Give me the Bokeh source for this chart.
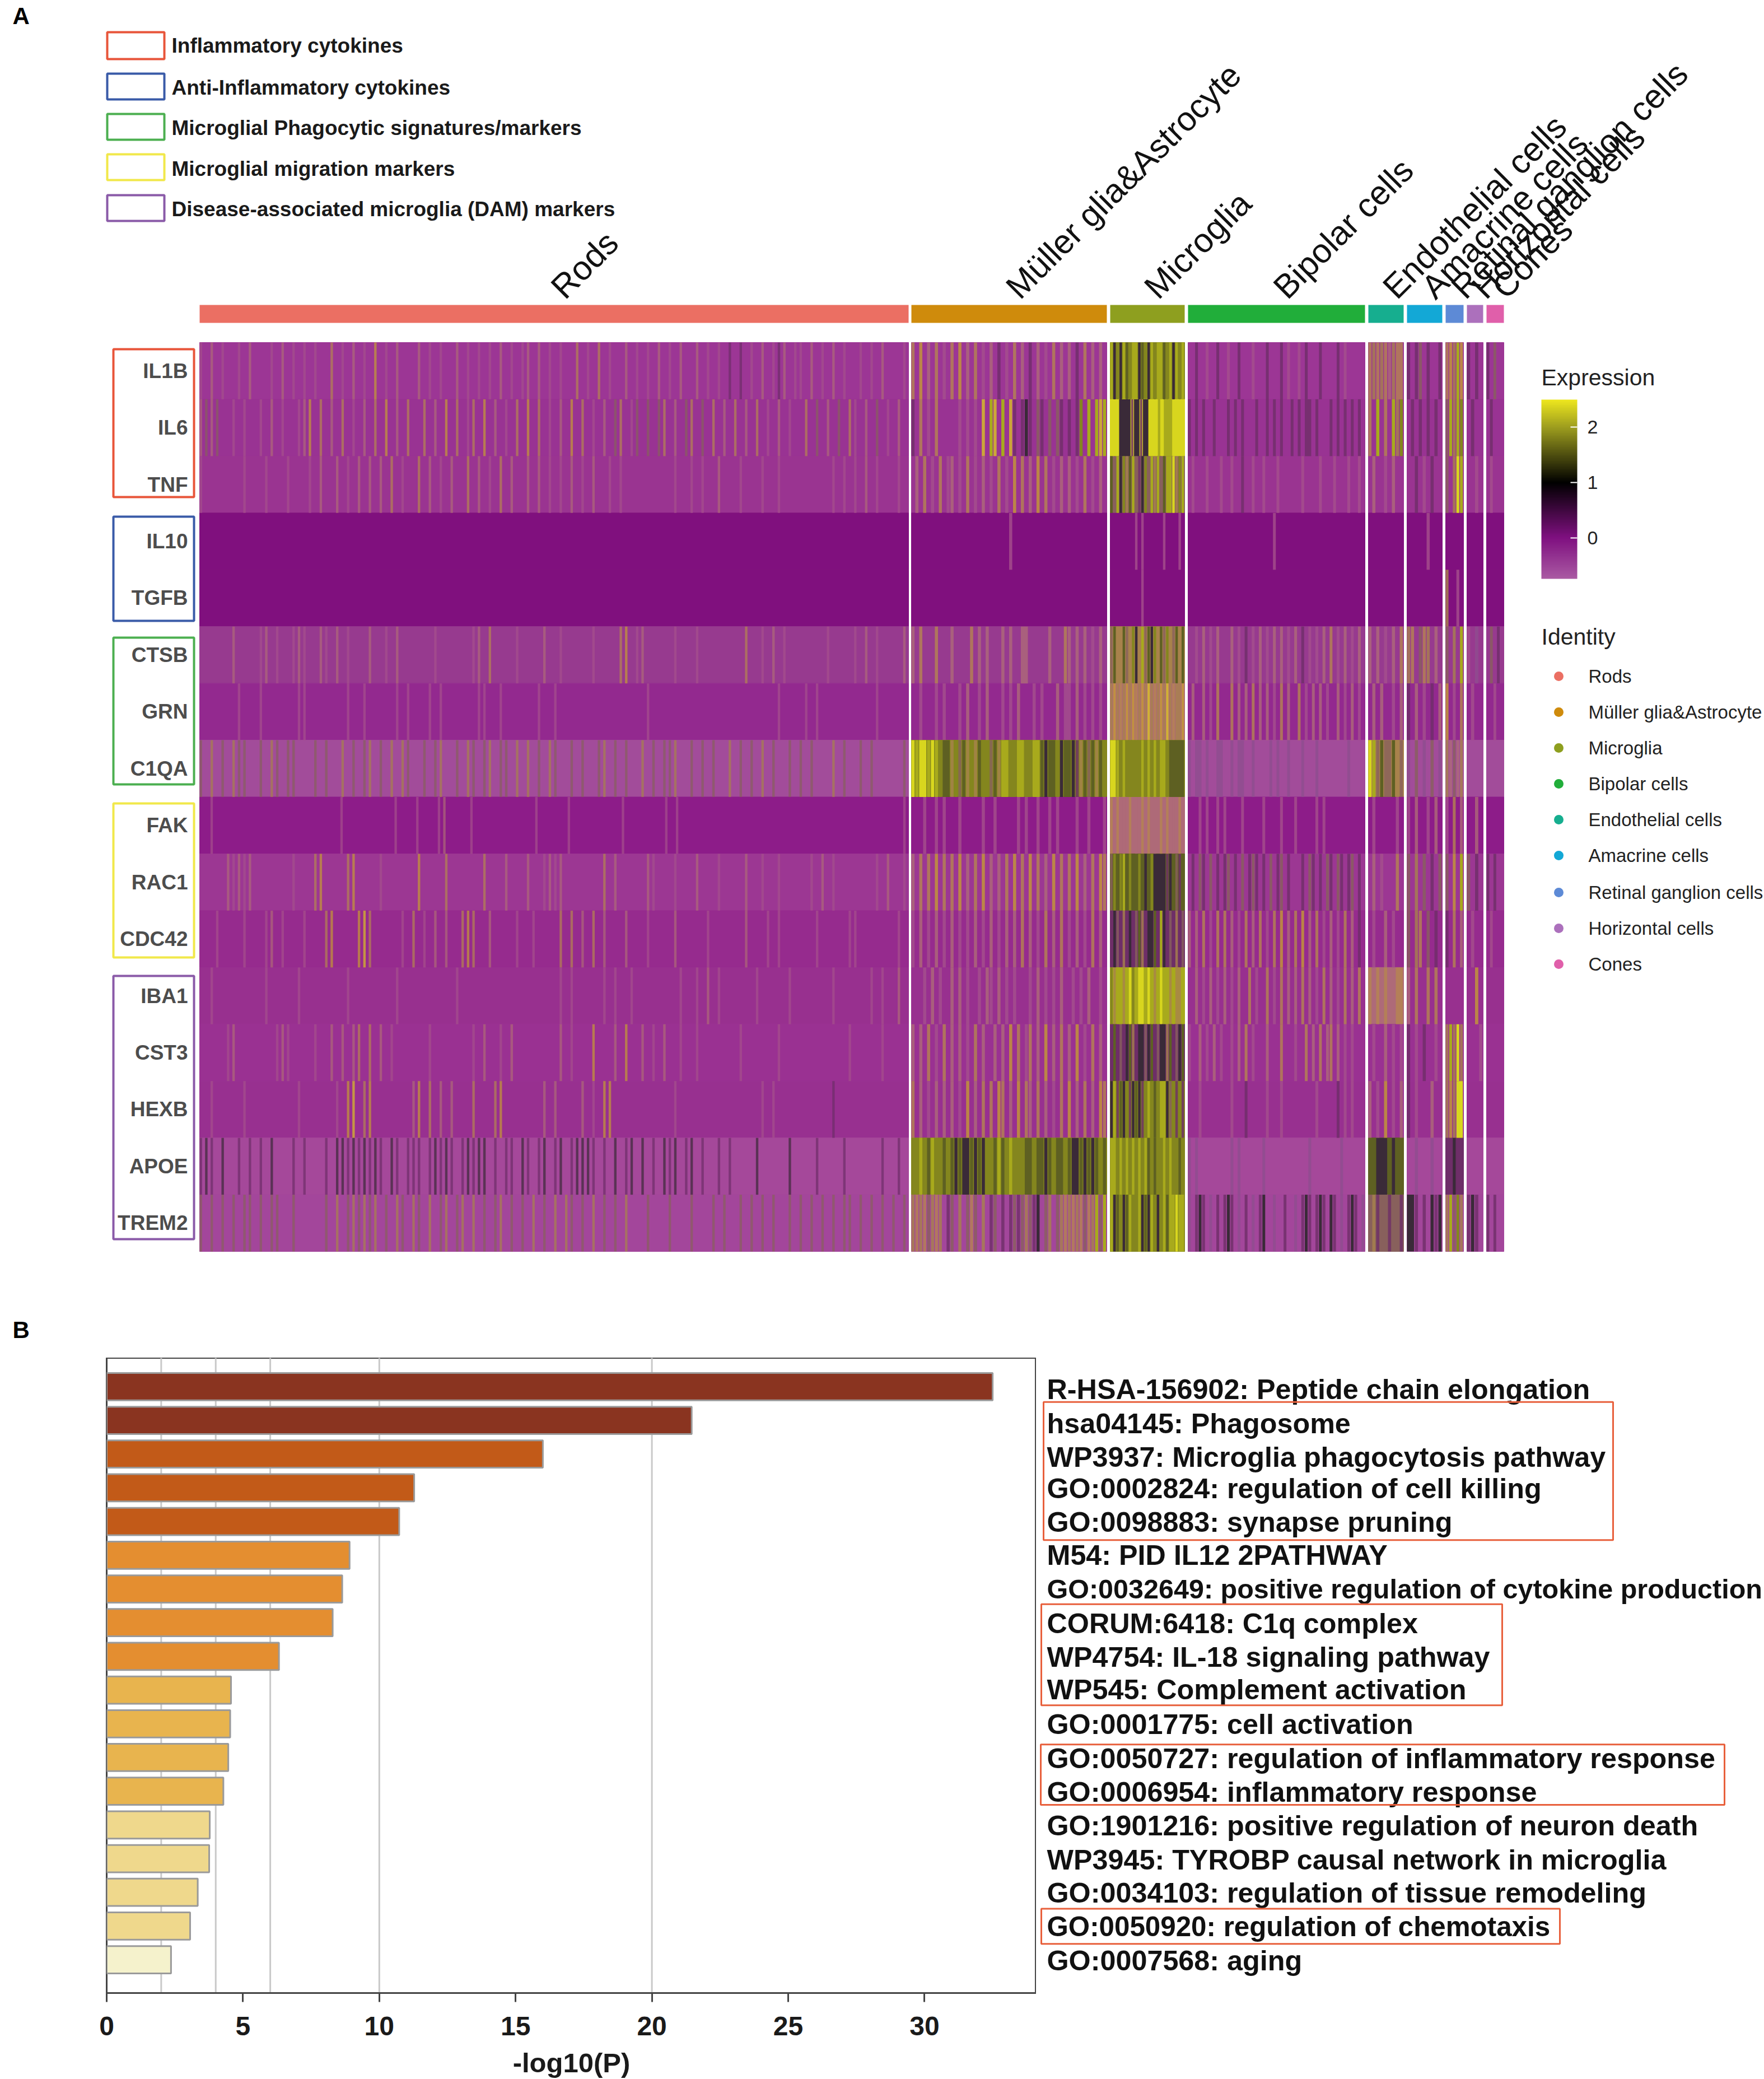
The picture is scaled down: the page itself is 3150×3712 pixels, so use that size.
from bokeh.plotting import figure
from bokeh.models import (ColumnDataSource, Range1d, FixedTicker, Span, ColorBar, LinearColorMapper)
from bokeh.layouts import column, row
from bokeh.embed import file_html
from bokeh.resources import INLINE
from bokeh.core.properties import value

FONT = value("Liberation Sans")

# ---------- panel A data ----------
CLUSTERS = ["Rods", "Müller glia&Astrocyte", "Microglia", "Bipolar cells", "Endothelial cells",
            "Amacrine cells", "Retinal ganglion cells", "Horizontal cells", "Cones"]
CLUSTER_COLORS = ["#EB6F63", "#CF8B0C", "#8E9F1F", "#21AE3A", "#16AE8F", "#13A8D6", "#5D8AD6", "#AC70BC", "#E05FAA"]
CLUSTER_LEFT = [356, 1627, 1982, 2121, 2443, 2512, 2581, 2619, 2654]
CLUSTER_RIGHT = [1622, 1976, 2115, 2437, 2506, 2575, 2613, 2648, 2685]

GENES = ["IL1B", "IL6", "TNF", "IL10", "TGFB", "CTSB", "GRN", "C1QA", "FAK", "RAC1", "CDC42", "IBA1", "CST3", "HEXB", "APOE", "TREM2"]
GENE_BASE = ["#9C3695", "#993393", "#9A3491", "#80107E", "#80107E", "#973A8F", "#93298F", "#A24C9A",
             "#8D1C89", "#9C3793", "#962B8E", "#98308F", "#9A3192", "#983090", "#A5489A", "#A3469B"]
# expression levels: '.' = row background, the other codes index LEVELS
LEVELS = {"1": "#A5508C", "2": "#AE6A78", "3": "#B58450", "4": "#C49A34", "5": "#D8C224",
          "6": "#D8D61E", "7": "#A8AA1C", "8": "#84861E", "9": "#5E6022", "k": "#3A2A38",
          "d": "#6E2E68", "e": "#8E4E8E", "g": "#88605C", "h": "#A8824C"}
SOFT_LEVELS = "12345degh"

IL1B = ["1.2.1..1.2 ...1.2.1.1 .1..3.1.2. 1.4.1.2... 2.1.1..2.1 .1.1.2.1.1 2.2.1.1..3 .1.3.1..2. 1.1.2.1.2. .2.1.1.d.d .1.2.1d2.1 1.2.1.2.1. .1.1.2...1",
        "3.4.2.3.1. 3.4.2.3.1. 2.d.1.3.2. d.2.1.3.2. 2.d.3.2.2.", "8:7k8k79877k98k7877987k787",
        "..d..1..d. .1..d...1. ..d...d.1. .1.d...d.. ..d.1.....", "3h3h32h33", "d.dg.d..d", "34h74", "d.d.", "d.g.."]
IL6 = ["2g2g..1.1. .1.2.1..12 4.3.2.3.1. 2.3.4.2.3. .3.2.4.3.1 3.4.2.1.3. 4.3.1.2.4. 3.1.2.g3.1 g.g.g3.2.g 3.g.3.2.3. 2.3.1.2.1. .3.g.2.g.3 1.2.g.1.2.",
       "d.3.1.3... ..1.1.1.5. 75.7.5d.dk d.gd.g.gd. d.d8.7.757", "6:666kkkkdkkdkk666767776666",
       "d.d.d..d.. .d.d.d...d ..d.d.d..d .d.dd.d... d.d.d.d.d.", "3.7.3.7h8", ".d.d.d.d.", "g7h78", ".d..", ".d..."]
TNF = ["1.......1. ..1...1... 1.2..2.1.2 .2.2.3.1.. 3.2.1.2..3 .2.1.3.2.. 2.2.1.1.2. 1.2..1.1.. .......1.. 1.1..2...1 ...1..1... ......1.1. 1.2.1...1.",
       ".2.3.1.3.1 2.1.3.1.2. 1.3.1.4.3. 2.4.3.1.2. 2.1.3.1.2.", "g:9g7k8h97gdk8g7h7g9776h87",
       ".1...1...1 ..1..d..1. .1...1.... ..1....1.. .1...1..1.", ".2..1.2..", "..d.1.d..", "g.h67", "..1.", ".1..."]
IL10 = ["", ".......... .......... .....1.... .......... ..........", "........1.1......1....1.",
        ".......... .......... ....1..... .......... ..........", "", ".....1...", "", "", ""]
TGFB = ["", "", "..........1.............", "", "", "", "h..1.", "", ""]
CTSB = ["......2... .12.1..121 ..21.2.1.. .2..1.2... ...1...... 12.3....1. ...2..1... ..1....34. 12.....1.. .1........ 3..1.2.1.. .....1.... 1.2.1....2",
        "2.3...3... 2....3.2.2 ...2.2..22 .....2...3 2.2.2.1.2.", "h:g9hh9gh8kh7g9k8h9g8hg9h9",
        "..1.2.1.2. ..2.1.d.1. 2.1.2.2.1. 2.d.1.1.2. 3.1.2.1.2.", "2.2.1.2.3", "h3.g3h.2.", "g.h.7", "1.e.", ".g.d."]
GRN = [".......1.. .1......11 .......1.. 1.....1.1. ..1.1..... .11..1.... ..1..1.... .......... ..1....... .......... ......1... .1.1...... ....1.....",
       "..1...1.1. ..1.2..1.2 ...1.1.2.. .1.1...2.1 1.2.1.1.1.", "2:h4h3h4h43h4h5h3h4h5h3hh4",
       ".2..2.1.3. ..3.2.2.3. 2.2.1.3.2. .3.1.2.2.1 ..2.1.2.1.", ".2.2..1.2", "d.2.1.d.2", "4.1.3", ".1..", "..1.."]
C1QA = ["g.h.g.hgg. .g.hg.gg.. .g.g..h.g. gh.g.h.hg. .g.gh..g.h g.gh.gg.h. h.g.hg..g. g..gh.g.g. .h.g.ggh.. g.g.g..h.g .g.h.g..g. g.g...h.g. .g.g.....g",
        "8:6766767899 h8g9h8h988 g9h7788778 8779k998k9 9kdh9g9h98", "8:667878888878787877899999",
        "e.ee.e..ee ..e.ee..e. ...e.e..e. ..e...e... .....e....", "h:67g9gg9hg", "e.g.e.g.e", "h2g2h", "", ""]
FAK = ["..1....... .......... ......1... ......1... 1...12.... 1......... ..1.....1. ........1. ......1.1. .......... .......... .......... ..........1",
       "...1..1.1. ..1.....1. .1.....1.1 ..1..1.1.. ..1..1...1", "2:3.3.2.3.2.3.3.2.3.3.2.3.",
       "...1.1..1. 1....1.... .1....1... 1.....1.1. ..........", ".1.....1.", "1.2..1.2.", "1.3.2", "..2.", ""]
RAC1 = [".....21212 .......1.. .34....34. ...1...... 4....3.... ..3...2... 2..1212... ....3.2... ..21...1.. .2...1.... 2..1..1... ..1.2.1... ....1.2..1",
        "2.3.3.4.3. 3.4.2.3.4. 2.2.3.4.3. 4.3.2.4.3. 3.4.2.3.43", "9:g8987989989k98kkkkdk9gd9",
        ".d.gd.g.d. dg.d.g.dgd .d.g.dg.d. ..d.gd.d.g d.gd.dg.d.", ".2.1...3.", "g.h.g.d.g", "g.4.7", "g.d.", "d.d.."]
CDC42 = ["...1....1. ..12.1...1 ...34....4 53.....1.3 .1.2.2..34 3..2....1. .1....3.3. 2.3.2...2. ..1....2.. ...1...... 2...1.1... ...1.....1 1.......1.",
         "1.2.1.2.1. 2.1.1.2.1. 2.1.2.2.3. 2.1.3.2.3. 1.2.1.3.2.", "d:dkgdhdkdg9hdkk9d7kdgdhdg",
         "2.2.3.1.3. 3.2.1.3.2. 3.1.3.4.2. 3.4.2.3.1. 2.1.3.2.d.", ".1..2.1..", "g.h3.g.d.", "d.3.2", ".1..", ".1..."]
IBA1 = ["..1....... ..1.....1. .......1.. ......1... .......1.. .......... ......1.1. ....1.1..1 ........1. .1.2.1.... ..1.....1. ......1... ...1.1..2.",
        "...1.2.1.. 2.2.1..1.2 1.2.1.1... 1.2.1.1.2. .1.1.2..1.", "7:8h77h768766767h7677h7hh7",
        "..2.1.2.1. 2.1.2..3.1 ..3.1.3.2. 2.3.2.1.3. 2.1.3.2.3.", "2:3.3.3..33", "2.3..3.3.", "", "..4.", ""]
CST3 = [".....12... ....121... .1..2.2.23 .3.2.1.... ..1....... 1.2..1.2.. ......2.1. ..4...2.4. .2.1.2..1. .1.......1 ......1... .........1 .....1....",
        "2.2.3.1.3. 2.2.1.3.2. .2.2.4.3.1 3.2.4.2.3. 2.4.1.3.2.", "d:d9dgdk9hdkkgk9dgkkh9dgk9",
        "1..2.1.2.1 ..1.2.3.1. ..2...3... 1..3.2.3.2 3.2.1.1...", ".1..2.1.1", "d.1.d..1.", "h7h6h", "...1", ""]
HEXB = ["..1.....1. ........1. .....1.45. 34.......2 4.3.2.2... 3...34.... ...2.2.... 2.1.44.... .......1.. .......... ...1.1.... ......d... ..........",
        "3.2.1.2.2. 2.1.4.2.3. 3.43.2.4.3 2.3.2.1.3. 4.2.3.2.43", "8:k7d9k8dk9kd8789877kg8d8d",
        "...1...... ..1...d... ..1...1... ......1... ..d.1.1...", "2.1.4.1.2", "d.1...2..", "h4h66", "", ""]
APOE = ["dkd.k..d.d .d.k...d.d ...d.kkdkd kdkd.kd.dd d.dkdkd.dk dkk.d.dd.k d.dk.dk.dk kkd.d.k.dk .k.d.kdk.d k.d..d.d.. ..k.....k. ...d....d. .....d..d.",
        "8:8878978898 9k9kk9k9k8 8979878889 9899k98998 9kk9k9k989", "8:778787878787989887878898",
        "e.e....... ..e.e..... .e........ ....e..... ...e......", "9:99kkk9k99", "..e...e..", "d:ddkdd", "", ""]
TREM2 = ["g.g.g.g.gg .g.gg..g.. ...g.h.ghg hgh.g.hg.h g.h.gh.gh. h.g.gh.g.g .h.g.h.hg. g.h.g.g.h. ..g...g... g...g.g..g .g.g.g..g. g.g.g.g.gg .g.g.g.g.g",
         "h3h3gh3h.d g.h.g3g.h. dg.d.dgdgh gdk.gh.gh3 h3h3g3h7g7", "8:7k98k97887k9k78k87977677",
         "e.dkd.e.d. dkd.e.d.e. dk..e..d.. e.dkd.dkd. kd.e.dkd.e", "g:ghd.gdg.d", "kkd.d.kdk", "h7g8h", "dkd.", "d.d.."]
ROWS = [IL1B, IL6, TNF, IL10, TGFB, CTSB, GRN, C1QA, FAK, RAC1, CDC42, IBA1, CST3, HEXB, APOE, TREM2]

GROUP_NAMES = ["Inflammatory cytokines", "Anti-Inflammatory cytokines", "Microglial Phagocytic signatures/markers",
               "Microglial migration markers", "Disease-associated microglia (DAM) markers"]
GROUP_COLORS = ["#E8553A", "#3A5BA8", "#4CAF50", "#F1E84A", "#8A5AA8"]
GROUP_TOP = [623, 922, 1138, 1434, 1742]
GROUP_BOTTOM = [887, 1108, 1400, 1709, 2212]
LEG_TOP = [57, 131, 203, 275, 348]
LEG_BOTTOM = [105, 177, 249, 321, 394]
LEG_TEXT_Y = [81, 156, 228, 301, 373]
ID_Y = [1207, 1271, 1335, 1399, 1463, 1527, 1593, 1657, 1721]

# ---------- panel B data ----------
TERMS = ["R-HSA-156902: Peptide chain elongation", "hsa04145: Phagosome", "WP3937: Microglia phagocytosis pathway",
         "GO:0002824: regulation of cell killing", "GO:0098883: synapse pruning", "M54: PID IL12 2PATHWAY",
         "GO:0032649: positive regulation of cytokine production", "CORUM:6418: C1q complex",
         "WP4754: IL-18 signaling pathway", "WP545: Complement activation", "GO:0001775: cell activation",
         "GO:0050727: regulation of inflammatory response", "GO:0006954: inflammatory response",
         "GO:1901216: positive regulation of neuron death", "WP3945: TYROBP causal network in microglia",
         "GO:0034103: regulation of tissue remodeling", "GO:0050920: regulation of chemotaxis", "GO:0007568: aging"]
TERM_SIZE = ["50.3px"] * 6 + ["48.5px"] + ["50.3px"] * 9 + ["49.3px", "50.3px"]
LOGP = [32.5, 21.46, 16.0, 11.28, 10.73, 8.91, 8.64, 8.29, 6.32, 4.56, 4.53, 4.46, 4.28, 3.78, 3.76, 3.34, 3.06, 2.36]
BAR_COLORS = ["#8A3420"] * 2 + ["#C25A18"] * 3 + ["#E48E30"] * 4 + ["#E8B44E"] * 4 + ["#EFD88C"] * 4 + ["#F5F2CC"]
SIG_LINES = [2, 4, 6, 10, 20]
X_TICKS = [0, 5, 10, 15, 20, 25, 30]
TERM_Y = [2480, 2541, 2601, 2658, 2718, 2777, 2838, 2899, 2959, 3018, 3080, 3141, 3201, 3261, 3322, 3382, 3442, 3503]
BOX_L = [1863, 1859, 1858, 1859]
BOX_R = [2880, 2682, 3079, 2785]
BOX_T = [2503, 2865, 3116, 3410]
BOX_B = [2750, 3046, 3224, 3473]

# ---------- layout constants ----------
W, H = 3150, 3712
TOP_H = 2424
HEAT_TOP, ROW_H = 611, 101.44


def hex2rgb(c):
    return tuple(int(c[i:i + 2], 16) for i in (1, 3, 5))


def ramp(stops, n=256):
    lo, hi = stops[0][0], stops[-1][0]
    out = []
    for k in range(n):
        v = lo + (hi - lo) * k / (n - 1)
        for (a, ca), (b, cb) in zip(stops, stops[1:]):
            if v <= b:
                t = (v - a) / (b - a)
                A, B = hex2rgb(ca), hex2rgb(cb)
                out.append("#%02x%02x%02x" % tuple(round(x + (y - x) * t) for x, y in zip(A, B)))
                break
    return out


# ---------- top figure ----------
p = figure(width=W, height=TOP_H, x_range=Range1d(0, W), y_range=Range1d(TOP_H, 0),
           output_backend="svg", toolbar_location=None, x_axis_location=None, y_axis_location=None,
           min_border=0, outline_line_color=None, background_fill_color="white")
p.xgrid.visible = False
p.ygrid.visible = False
p.extra_y_ranges = {"gene": Range1d((TOP_H - HEAT_TOP) / ROW_H, (0 - HEAT_TOP) / ROW_H)}

bL, bR, bT, bB, bC = [], [], [], [], []
L, R, T, B, C, A = [], [], [], [], [], []
for gi, cells in enumerate(ROWS):
    base = GENE_BASE[gi]
    for ci, raw in enumerate(cells):
        x0, x1 = CLUSTER_LEFT[ci], CLUSTER_RIGHT[ci]
        s = raw.replace(" ", "")
        cbase = base
        if len(s) > 1 and s[1] == ":":
            cbase = LEVELS[s[0]] if s[0] != "." else base
            s = s[2:]
        bL.append(x0); bR.append(x1); bT.append(gi); bB.append(gi + 1); bC.append(cbase)
        if not s:
            continue
        cw = (x1 - x0) / len(s)
        sw = cw * (0.45 if ci == 0 else 0.8)
        i = 0
        while i < len(s):
            ch = s[i]
            if ch == ".":
                i += 1
                continue
            j = i
            while ci > 0 and j + 1 < len(s) and s[j + 1] == ch:
                j += 1
            L.append(x0 + i * cw); R.append(min(x1, x0 + j * cw + sw))
            T.append(gi); B.append(gi + 1); C.append(LEVELS[ch])
            A.append(0.7 if ci == 0 else (0.8 if ch in SOFT_LEVELS else 1.0))
            i = j + 1
p.quad(left="L", right="R", top="T", bottom="B", fill_color="C", line_color="C", line_width=1,
       y_range_name="gene", source=ColumnDataSource(dict(L=bL, R=bR, T=bT, B=bB, C=bC)))
p.quad(left="L", right="R", top="T", bottom="B", fill_color="C", fill_alpha="A", line_color=None,
       y_range_name="gene", source=ColumnDataSource(dict(L=L, R=R, T=T, B=B, C=C, A=A)))

# identity strip and rotated cluster labels
p.quad(left=CLUSTER_LEFT, right=CLUSTER_RIGHT, top=[544] * 9, bottom=[576] * 9, fill_color=CLUSTER_COLORS, line_color=None)
centers = [(a + b) / 2 + 5 for a, b in zip(CLUSTER_LEFT, CLUSTER_RIGHT)]
p.text(x=centers, y=[522] * 9, text=CLUSTERS, angle=0.785, angle_units="rad", text_font=FONT, text_font_size="60px",
       text_color="#111111", text_align="left", text_baseline="alphabetic")

# gene labels and group boxes
p.text(x=[335] * 16, y=[i + 0.5 for i in range(16)], text=GENES, y_range_name="gene", text_font=FONT,
       text_font_size="37px", text_font_style="bold", text_color="#4D4D4D", text_align="right", text_baseline="middle")
p.quad(left=[202] * 5, right=[346] * 5, top=GROUP_TOP, bottom=GROUP_BOTTOM, fill_color=None, line_color=GROUP_COLORS, line_width=4)

# group legend
p.quad(left=[191] * 5, right=[293] * 5, top=LEG_TOP, bottom=LEG_BOTTOM, fill_color=None, line_color=GROUP_COLORS, line_width=4)
p.text(x=[306] * 5, y=LEG_TEXT_Y, text=GROUP_NAMES, text_font=FONT, text_font_size="37px", text_font_style="bold",
       text_color="#1A1A1A", text_align="left", text_baseline="middle")

# panel letters
p.text(x=[22, 22], y=[28, 2374], text=["A", "B"], text_font=FONT, text_font_size="42px", text_font_style="bold",
       text_color="black", text_align="left", text_baseline="middle")

# expression legend
p.text(x=[2752, 2752], y=[673, 1136], text=["Expression", "Identity"], text_font=FONT, text_font_size="41px",
       text_color="#222222", text_align="left", text_baseline="middle")
mapper = LinearColorMapper(palette=ramp([(-0.74, "#AA5AA3"), (0, "#7F1080"), (1, "#000000"), (2, "#9C9C1E"), (2.5, "#EDE61E")]),
                           low=-0.74, high=2.5)
cb = ColorBar(color_mapper=mapper, location=(2752, TOP_H - 1033), width=64, height=320, padding=0, margin=0,
              ticker=FixedTicker(ticks=[0, 1, 2]), major_tick_line_color="white", major_tick_in=12, major_tick_out=0,
              major_tick_line_width=2, minor_tick_line_color=None, bar_line_color=None, border_line_color=None,
              background_fill_alpha=0, major_label_text_font="Liberation Sans", major_label_text_font_size="34px",
              major_label_text_color="#222222", label_standoff=18)
p.add_layout(cb)

# identity legend
p.scatter(x=[2783] * 9, y=ID_Y, size=17, marker="circle", fill_color=CLUSTER_COLORS, line_color=None)
p.text(x=[2836] * 9, y=ID_Y, text=CLUSTERS, text_font=FONT, text_font_size="33px", text_color="#222222",
       text_align="left", text_baseline="middle")

# ---------- bar chart ----------
PITCH, FIRST = 60.35, 2475.5
b = figure(width=1850, height=H - TOP_H, x_range=Range1d(0, 34.1),
           y_range=Range1d((3561 - FIRST) / PITCH, (TOP_H - FIRST) / PITCH),
           output_backend="svg", toolbar_location=None, y_axis_location=None,
           min_border_left=190, min_border_right=0, min_border_top=0, min_border_bottom=151,
           outline_line_color="#444444", outline_line_width=3, background_fill_color="white")
b.xgrid.visible = False
b.ygrid.visible = False
for v in SIG_LINES:
    b.add_layout(Span(location=v, dimension="height", line_color="#C9C9C9", line_width=3, level="underlay"))
b.hbar(y=list(range(18)), left=0, right=LOGP, height=0.81, fill_color=BAR_COLORS, line_color="#9A9A9A", line_width=3)
ax = b.xaxis[0]
ax.ticker = FixedTicker(ticks=X_TICKS)
ax.axis_line_color = "#444444"
ax.axis_line_width = 3
ax.major_tick_line_color = "#444444"
ax.major_tick_line_width = 3
ax.major_tick_in = 0
ax.major_tick_out = 16
ax.minor_tick_line_color = None
ax.major_label_text_font = "Liberation Sans"
ax.major_label_text_font_style = "bold"
ax.major_label_text_font_size = "48px"
ax.major_label_text_color = "#1A1A1A"
ax.major_label_standoff = 26
ax.axis_label = "-log10(P)"
ax.axis_label_text_font = "Liberation Sans"
ax.axis_label_text_font_style = "bold"
ax.axis_label_text_font_size = "49px"
ax.axis_label_text_color = "#1A1A1A"
ax.axis_label_standoff = 19

# ---------- term labels (frame shares the bar chart's height) ----------
t = figure(width=W - 1850, height=H - TOP_H, x_range=Range1d(1850, W), y_range=Range1d(3561, TOP_H),
           output_backend="svg", toolbar_location=None, x_axis_location=None, y_axis_location=None,
           min_border=0, min_border_bottom=151, outline_line_color=None, background_fill_color="white")
t.xgrid.visible = False
t.ygrid.visible = False
t.text(x=[1869] * 18, y=TERM_Y, text=TERMS, text_font=FONT, text_font_size=TERM_SIZE, text_font_style="bold",
       text_color="#111111", text_align="left", text_baseline="middle")
t.quad(left=BOX_L, right=BOX_R, top=BOX_T, bottom=BOX_B, fill_color=None, line_color="#E8603C", line_width=3)

page = column(p, row(b, t, spacing=0), spacing=0)
open("out.html", "w").write(file_html(page, INLINE))
